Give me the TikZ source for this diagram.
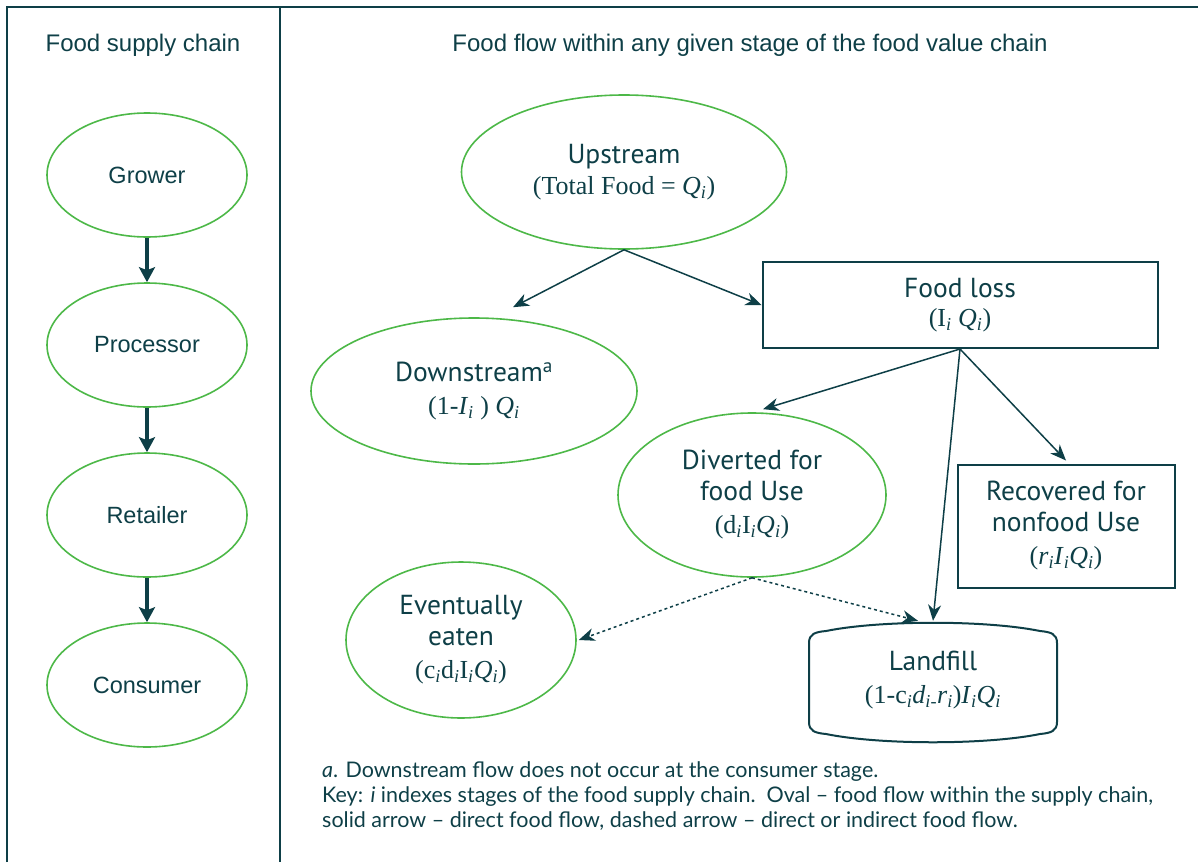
\documentclass[tikz,border=0pt]{standalone}
\usepackage{fontspec}
\setmainfont{Liberation Sans}
\newfontfamily\nodefont{PT Sans}
\newfontfamily\formfont{Liberation Serif}
\newfontfamily\notefont{Lato}
\usetikzlibrary{shapes.geometric, arrows.meta, positioning}
\definecolor{inkteal}{HTML}{0E3F47}
\definecolor{ovalgreen}{HTML}{4DB848}
\newcommand{\subi}{\textsubscript{\textit{i}}}

\begin{document}
\begin{tikzpicture}[x=1pt, y=-1pt, node distance={170pt}, text=inkteal,
	stage/.style = {draw=ovalgreen, line width=1.6pt, ellipse, inner sep=0pt, minimum width=200pt, minimum height=124pt, font=\fontsize{23.5}{28}\selectfont},
	oval/.style = {draw=ovalgreen, line width=1.6pt, ellipse, inner sep=0pt, align=center, font=\nodefont\fontsize{27.5}{31}\selectfont},
	box/.style = {draw=inkteal, line width=2pt, rectangle, inner sep=0pt, align=center, font=\nodefont\fontsize{27.5}{31}\selectfont},
	chain/.style = {draw=inkteal, line width=3.5pt, -{Stealth[length=15pt, width=16pt, inset=3pt]}},
	flow/.style = {draw=inkteal, line width=1.5pt, -{Stealth[length=16pt, width=13pt, inset=5pt]}},
	maybeflow/.style = {flow, dash pattern=on 3pt off 3pt}]
		\useasboundingbox (0,0) rectangle (1198,862);
		% frame
		\draw[inkteal, line width=2pt] (7,862) -- (7,7) -- (1198,7);
		\draw[inkteal, line width=2pt] (280,7) -- (280,862);
		\node (h1) at (143,45) {\fontsize{24}{28}\selectfont Food supply chain};
		\node (h2) at (750,45) {\fontsize{24}{28}\selectfont Food flow within any given stage of the food value chain};
		
		% supply chain
		\node[stage] (1) at (147,175) {Grower};
		\node[stage] (2) [below of=1] {Processor};
		\node[stage] (3) [below of=2] {Retailer};
		\node[stage] (4) [below of=3] {Consumer};
		
		\draw[chain] (1) -- (2);
		\draw[chain] (2) -- (3);
		\draw[chain] (3) -- (4);
		
		% food flow
		\node[oval, minimum width=325pt, minimum height=154pt] (up) at (624,172) {Upstream\\[0pt]{\formfont\fontsize{26}{31}\selectfont (Total Food = \textit{Q}\subi)}};
		\node[box, minimum width=395pt, minimum height=86pt] (loss) at (960,305) {Food loss\\[-2pt]{\formfont\fontsize{26}{31}\selectfont (I\subi{} \textit{Q}\subi)}};
		\node[oval, minimum width=326pt, minimum height=146pt] (down) at (474,391) {Downstream\textsuperscript{a}\\[2pt]{\formfont\fontsize{26}{31}\selectfont (1-\textit{I}\subi{} ) \textit{Q}\subi}};
		\node[oval, minimum width=268pt, minimum height=164pt] (div) at (752,495) {Diverted for\\food Use\\[2pt]{\formfont\fontsize{26}{31}\selectfont (d\subi I\subi\textit{Q}\subi)}};
		\node[box, minimum width=217pt, minimum height=123pt] (rec) at (1066,526) {Recovered for\\nonfood Use\\[2pt]{\formfont\fontsize{26}{31}\selectfont (\textit{r}\subi\textit{I}\subi\textit{Q}\subi)}};
		\node[oval, minimum width=230pt, minimum height=156pt] (eat) at (461,640) {Eventually\\eaten\\[2pt]{\formfont\fontsize{26}{31}\selectfont (c\subi d\subi I\subi\textit{Q}\subi)}};
		\node[align=center, inner sep=0pt, minimum width=250pt, minimum height=116pt, font=\nodefont\fontsize{27.5}{33}\selectfont] (fill) at (933,680) {Landfill\\{\formfont\fontsize{26}{31}\selectfont (1-c\subi\textit{d}\textsubscript{\textit{i}-}\textit{r}\subi)\textit{I}\subi\textit{Q}\subi}};
		\draw[inkteal, line width=2pt] (809,643) .. controls (809,634) and (815,632) .. (826,631)
			.. controls (880,620) and (986,620) .. (1040,631)
			.. controls (1051,632) and (1057,634) .. (1057,643) -- (1057,722)
			.. controls (1057,731) and (1051,733) .. (1040,734)
			.. controls (986,745) and (880,745) .. (826,734)
			.. controls (815,733) and (809,731) .. (809,722) -- cycle;
		
		\draw[flow] (up.south) -- ([xshift=39pt, yshift=10pt]down.north);
		\draw[flow] (up.south) -- (loss.west);
		\draw[flow] (loss.south) -- ([xshift=11pt, yshift=3pt]div.north);
		\draw[flow] (loss.south) -- ([yshift=3pt]rec.north);
		\draw[flow] (loss.south) -- ([yshift=1pt]fill.north);
		\draw[maybeflow] (div.south) -- ([xshift=2pt]eat.east);
		\draw[maybeflow] (div.south) -- ([xshift=-15pt, yshift=1pt]fill.north);
		
		% notes
		\node[anchor=north west, align=left, inner sep=0pt, font=\notefont\fontsize{21.5}{25}\selectfont] (note) at (322,761)
			{\textit{a}. Downstream flow does not occur at the consumer stage.\\
			Key: \textit{i} indexes stages of the food supply chain.\ \ Oval – food flow within the supply chain,\\
			solid arrow – direct food flow, dashed arrow – direct or indirect food flow.};
	\end{tikzpicture}
\end{document}
